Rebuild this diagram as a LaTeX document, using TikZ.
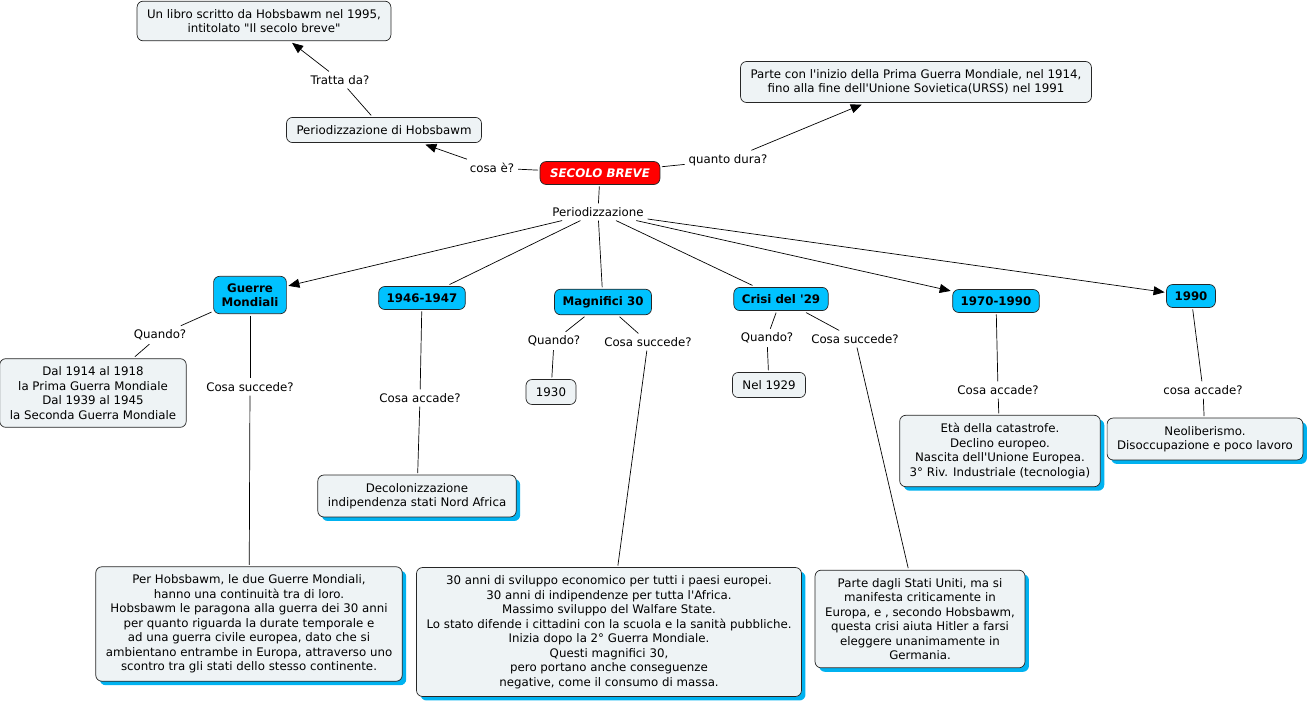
\documentclass[tikz,border=0pt]{standalone}
\usepackage{fontspec}
\setmainfont{DejaVu Sans}
\usetikzlibrary{arrows.meta,shadows}
\definecolor{boxfill}{HTML}{EEF3F5}
\definecolor{conceptblue}{HTML}{00C2FF}
\definecolor{shadowblue}{HTML}{00B2F0}
\definecolor{mainred}{HTML}{FF0000}
\newcommand{\mapfont}{\fontsize{11.8}{14.5}\selectfont}
\newcommand{\ap}{\textquotesingle}
\tikzset{
  box/.style={draw=black!85, fill=boxfill, rounded corners=6pt, align=center,
    inner xsep=10pt, inner ysep=8pt, outer sep=2pt, line width=0.7pt, font=\mapfont},
  shbox/.style={box, drop shadow={fill=shadowblue, opacity=1, shadow xshift=4pt, shadow yshift=-4pt}},
  concept/.style={box, fill=conceptblue, inner xsep=8pt, inner ysep=7pt, font=\mapfont\bfseries},
  mainbox/.style={box, fill=mainred, text=white, inner xsep=10pt, inner ysep=7pt, font=\mapfont\bfseries\itshape},
  lbl/.style={inner sep=3pt, outer sep=1pt, font=\mapfont},
  link/.style={line width=0.7pt},
  arr/.style={link, -{Triangle[length=11pt,width=9pt]}},
}
\begin{document}
\begin{tikzpicture}[x=1pt,y=-1pt]
  \useasboundingbox (0,0) rectangle (1310,704);
  % centro
  \node (secolo) at (600,173) [mainbox] {SECOLO BREVE};
  \node (cosae) at (492,168) [lbl] {cosa è?};
  \node (hobs) at (384,130) [box] {Periodizzazione di Hobsbawm};
  \node (tratta) at (340,80) [lbl] {Tratta da?};
  \node (libro) at (264,21) [box] {Un libro scritto da Hobsbawm nel 1995,\\intitolato \textquotedbl Il secolo breve\textquotedbl};
  \node (quanto) at (728,160) [lbl] {quanto dura?};
  \node (parte) at (916,82) [box] {Parte con l\ap inizio della Prima Guerra Mondiale, nel 1914,\\fino alla fine dell\ap Unione Sovietica(URSS) nel 1991};
  \node (period) at (598,212) [lbl] {Periodizzazione};
  % periodi
  \node (guerre) at (250,295) [concept] {Guerre\\Mondiali};
  \node (dopo) at (422,298) [concept] {1946-1947};
  \node (magn) at (603,302) [concept] {Magnifici 30};
  \node (crisi) at (781,299) [concept] {Crisi del \ap 29};
  \node (settanta) at (996,301) [concept] {1970-1990};
  \node (novanta) at (1191,296) [concept] {1990};
  % Guerre Mondiali
  \node (quandoG) at (160,335) [lbl] {Quando?};
  \node (dal) at (93,393) [box] {Dal 1914 al 1918\\la Prima Guerra Mondiale\\Dal 1939 al 1945\\la Seconda Guerra Mondiale};
  \node (succG) at (250,387) [lbl] {Cosa succede?};
  \node (perhobs) at (249,624) [shbox] {Per Hobsbawm, le due Guerre Mondiali,\\hanno una continuità tra di loro.\\Hobsbawm le paragona alla guerra dei 30 anni\\per quanto riguarda la durate temporale e\\ad una guerra civile europea, dato che si\\ambientano entrambe in Europa, attraverso uno\\scontro tra gli stati dello stesso continente.};
  % 1946-1947
  \node (accD) at (420,398) [lbl] {Cosa accade?};
  \node (decol) at (417,496) [shbox] {Decolonizzazione\\indipendenza stati Nord Africa};
  % Magnifici 30
  \node (quandoM) at (554,341) [lbl] {Quando?};
  \node (succM) at (648,342) [lbl] {Cosa succede?};
  \node (anno30) at (551,392) [box] {1930};
  \node (trenta) at (609,632) [shbox] {30 anni di sviluppo economico per tutti i paesi europei.\\30 anni di indipendenze per tutta l\ap Africa.\\Massimo sviluppo del Walfare State.\\Lo stato difende i cittadini con la scuola e la sanità pubbliche.\\Inizia dopo la 2° Guerra Mondiale.\\Questi magnifici 30,\\pero portano anche conseguenze\\negative, come il consumo di massa.};
  % Crisi del '29
  \node (quandoC) at (767,338) [lbl] {Quando?};
  \node (succC) at (855,339) [lbl] {Cosa succede?};
  \node (nel) at (769,385) [box] {Nel 1929};
  \node (stati) at (920,619) [shbox] {Parte dagli Stati Uniti, ma si\\manifesta criticamente in\\Europa, e , secondo Hobsbawm,\\questa crisi aiuta Hitler a farsi\\eleggere unanimamente in\\Germania.};
  % 1970-1990 e 1990
  \node (accS) at (998,390) [lbl] {Cosa accade?};
  \node (eta) at (1000,451) [shbox] {Età della catastrofe.\\Declino europeo.\\Nascita dell\ap Unione Europea.\\3° Riv. Industriale (tecnologia)};
  \node (accN) at (1203,390) [lbl] {cosa accade?};
  \node (neo) at (1205,439) [shbox] {Neoliberismo.\\Disoccupazione e poco lavoro};
  % collegamenti
  \draw [link] (secolo) -- (cosae);
  \draw [arr] (cosae) -- (hobs);
  \draw [link] (hobs) -- (tratta);
  \draw [arr] (tratta) -- (libro);
  \draw [link] (secolo) -- (quanto);
  \draw [arr] (quanto) -- (parte);
  \draw [link] (secolo) -- (period);
  \draw [arr] (period) -- (guerre);
  \draw [link] (period) -- (dopo);
  \draw [link] (period) -- (magn);
  \draw [link] (period) -- (crisi);
  \draw [arr] (period) -- (settanta);
  \draw [arr] (period) -- (novanta);
  \draw [link] (guerre) -- (quandoG);
  \draw [link] (quandoG) -- (dal);
  \draw [link] (guerre) -- (succG);
  \draw [link] (succG) -- (perhobs);
  \draw [link] (dopo) -- (accD);
  \draw [link] (accD) -- (decol);
  \draw [link] (magn) -- (quandoM);
  \draw [link] (quandoM) -- (anno30);
  \draw [link] (magn) -- (succM);
  \draw [link] (succM) -- (trenta);
  \draw [link] (crisi) -- (quandoC);
  \draw [link] (quandoC) -- (nel);
  \draw [link] (crisi) -- (succC);
  \draw [link] (succC) -- (stati);
  \draw [link] (settanta) -- (accS);
  \draw [link] (accS) -- (eta);
  \draw [link] (novanta) -- (accN);
  \draw [link] (accN) -- (neo);
\end{tikzpicture}
\end{document}
